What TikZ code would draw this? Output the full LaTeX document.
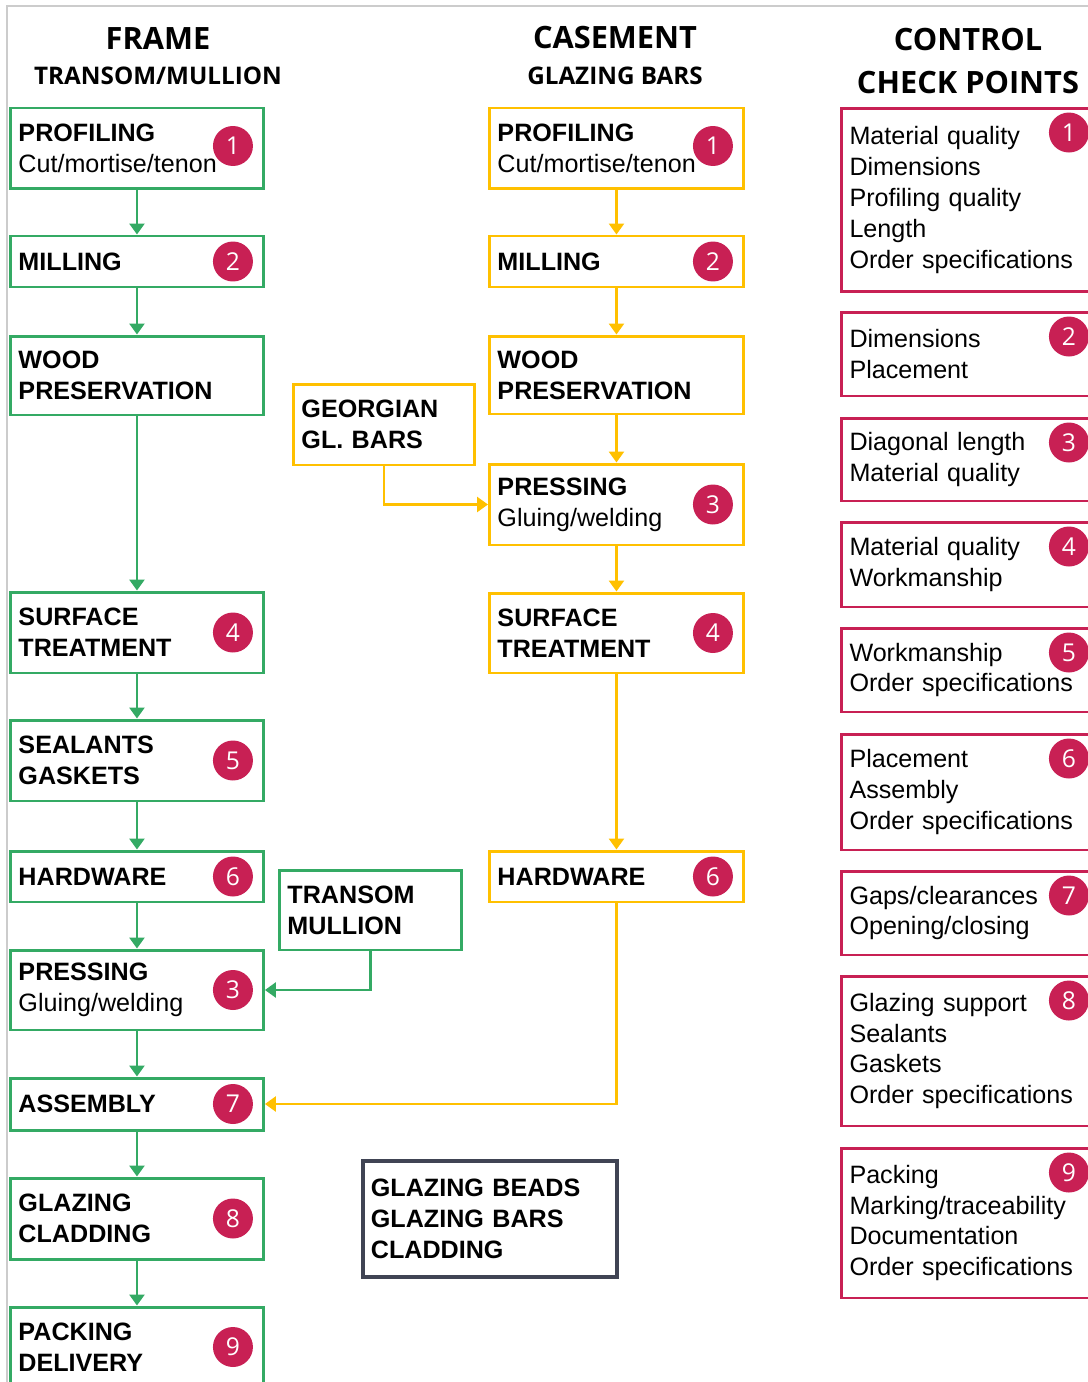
\documentclass[tikz,border=0pt]{standalone}
\usepackage{fontspec}
\usepackage{tikz}
\usetikzlibrary{arrows.meta}
\setmainfont{Liberation Sans}
\newfontfamily\headfont{Open Sans}

\definecolor{grn}{RGB}{52,170,100}
\definecolor{ylw}{RGB}{255,192,0}
\definecolor{crim}{RGB}{200,32,84}
\definecolor{slate}{RGB}{64,68,84}

\begin{document}
\begin{tikzpicture}[x=0.02cm, y=-0.02cm,
    box/.style={rectangle, anchor=west, line width=1.7pt, inner xsep=0.16cm, inner ysep=0pt,
                align=left, font=\fontsize{14.3}{17.6}\selectfont},
    frame node/.style={box, draw=grn, text width=4.74cm, font=\fontsize{14.3}{17.6}\selectfont\bfseries},
    case node/.style={box, draw=ylw, text width=4.76cm, font=\fontsize{14.3}{17.6}\selectfont\bfseries},
    check node/.style={box, draw=crim, text width=4.84cm},
    badge/.style={circle, fill=crim, text=white, minimum size=0.8cm, inner sep=0pt,
                  font=\headfont\fontsize{14}{14}\selectfont},
    garrow/.style={draw=grn, line width=1.5pt, -{Triangle[width=0.3cm,length=0.22cm]}},
    yarrow/.style={draw=ylw, line width=1.5pt, -{Triangle[width=0.3cm,length=0.22cm]}},
    head/.style={font=\headfont\bfseries\fontsize{17.5}{20}\selectfont},
    subhead/.style={font=\headfont\bfseries\fontsize{13.8}{16}\selectfont}]

  \useasboundingbox (0,0) rectangle (1088,1382);
  \draw[black!20, line width=0.8pt] (7,1382) |- (1088,6);

  % headers
  \node[head] (hf) at (158,38) {FRAME};
  \node[subhead] (hf2) at (158,76) {TRANSOM/MULLION};
  \node[head] (hc) at (615,38) {CASEMENT};
  \node[subhead] (hc2) at (615,76) {GLAZING BARS};
  \node[head] (hk) at (968,40) {CONTROL};
  \node[head] (hk2) at (968,83) {CHECK POINTS};

  % frame column
  \node[frame node, minimum height=1.62cm] (f1) at (9,148.5) {PROFILING\\{\mdseries Cut/mortise/tenon}};
  \node[frame node, minimum height=1.02cm] (f2) at (9,261.5) {MILLING};
  \node[frame node, minimum height=1.58cm] (f3) at (9,375.5) {WOOD\\PRESERVATION};
  \node[frame node, minimum height=1.62cm] (f4) at (9,632.5) {SURFACE\\TREATMENT};
  \node[frame node, minimum height=1.62cm] (f5) at (9,760.5) {SEALANTS\\GASKETS};
  \node[frame node, minimum height=1.02cm] (f6) at (9,876.5) {HARDWARE};
  \node[frame node, minimum height=1.60cm] (f7) at (9,990) {PRESSING\\{\mdseries Gluing/welding}};
  \node[frame node, minimum height=1.04cm] (f8) at (9,1104) {ASSEMBLY};
  \node[frame node, minimum height=1.62cm] (f9) at (9,1218.5) {GLAZING\\CLADDING};
  \node[frame node, minimum height=1.60cm] (f10) at (9,1347) {PACKING\\DELIVERY};

  % casement column
  \node[case node, minimum height=1.62cm] (c1) at (488,148.5) {PROFILING\\{\mdseries Cut/mortise/tenon}};
  \node[case node, minimum height=1.02cm] (c2) at (488,261.5) {MILLING};
  \node[case node, minimum height=1.56cm] (c3) at (488,375) {WOOD\\PRESERVATION};
  \node[case node, minimum height=1.62cm] (c4) at (488,504.5) {PRESSING\\{\mdseries Gluing/welding}};
  \node[case node, minimum height=1.60cm] (c5) at (488,633) {SURFACE\\TREATMENT};
  \node[case node, minimum height=1.02cm] (c6) at (488,876.5) {HARDWARE};

  % side inputs
  \node[case node, text width=3.30cm, minimum height=1.62cm] (g) at (292,424.5) {GEORGIAN\\GL. BARS};
  \node[frame node, text width=3.32cm, minimum height=1.60cm] (t) at (278,910) {TRANSOM\\MULLION};
  \node[box, draw=slate, line width=2.2pt, text width=4.76cm, minimum height=2.32cm,
        font=\fontsize{14.3}{17.6}\selectfont\bfseries] (b) at (361,1219) {GLAZING BEADS\\GLAZING BARS\\CLADDING};

  % control check points
  \node[check node, minimum height=3.68cm] (k1) at (840,200)
    {Material quality\\Dimensions\\Profiling quality\\Length\\Order specifications};
  \node[check node, minimum height=1.68cm] (k2) at (840,354) {Dimensions\\Placement};
  \node[check node, minimum height=1.66cm] (k3) at (840,459.5) {Diagonal length\\Material quality};
  \node[check node, minimum height=1.70cm] (k4) at (840,564.5) {Material quality\\Workmanship};
  \node[check node, minimum height=1.68cm] (k5) at (840,670) {Workmanship\\Order specifications};
  \node[check node, minimum height=2.32cm] (k6) at (840,792) {Placement\\Assembly\\Order specifications};
  \node[check node, minimum height=1.68cm] (k7) at (840,913) {Gaps/clearances\\Opening/closing};
  \node[check node, minimum height=3.00cm] (k8) at (840,1051)
    {Glazing support\\Sealants\\Gaskets\\Order specifications};
  \node[check node, minimum height=3.00cm] (k9) at (840,1223)
    {Packing\\Marking/traceability\\Documentation\\Order specifications};

  % badges
  \node[badge] at ([xshift=-0.64cm,yshift=0.05cm]f1.east) {1};
  \node[badge] at ([xshift=-0.64cm]f2.east) {2};
  \node[badge] at ([xshift=-0.64cm]f4.east) {4};
  \node[badge] at ([xshift=-0.64cm]f5.east) {5};
  \node[badge] at ([xshift=-0.64cm]f6.east) {6};
  \node[badge] at ([xshift=-0.64cm]f7.east) {3};
  \node[badge] at ([xshift=-0.64cm]f8.east) {7};
  \node[badge] at ([xshift=-0.64cm]f9.east) {8};
  \node[badge] at ([xshift=-0.64cm]f10.east) {9};
  \node[badge] at ([xshift=-0.64cm,yshift=0.05cm]c1.east) {1};
  \node[badge] at ([xshift=-0.64cm]c2.east) {2};
  \node[badge] at ([xshift=-0.64cm]c4.east) {3};
  \node[badge] at ([xshift=-0.64cm]c5.east) {4};
  \node[badge] at ([xshift=-0.64cm]c6.east) {6};
  \foreach \n in {1,...,9}
    \node[badge] at ([xshift=-0.64cm,yshift=-0.52cm]k\n.north east) {\n};

  % flow
  \foreach \a/\b in {f1/f2,f2/f3,f3/f4,f4/f5,f5/f6,f6/f7,f7/f8,f8/f9,f9/f10}
    \draw[garrow] (\a) -- (\b);
  \foreach \a/\b in {c1/c2,c2/c3,c3/c4,c4/c5,c5/c6}
    \draw[yarrow] (\a) -- (\b);
  \draw[yarrow] (c6.south) |- (f8.east);
  \draw[yarrow] (g.south) |- (c4.west);
  \draw[garrow] (t.south) |- (f7.east);
\end{tikzpicture}
\end{document}
